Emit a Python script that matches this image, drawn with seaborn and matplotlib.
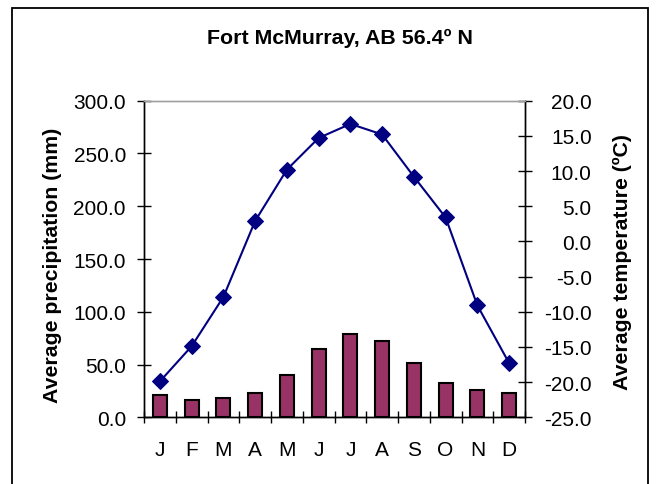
import numpy as np
import pandas as pd
import matplotlib
matplotlib.use('Agg')
import matplotlib.pyplot as plt
import matplotlib.patches as mpatches
from matplotlib.ticker import FormatStrFormatter, FixedLocator
import seaborn as sns

# ── Dados ────────────────────────────────────────────────────────────────────
MESES = ['J', 'F', 'M', 'A', 'M', 'J', 'J', 'A', 'S', 'O', 'N', 'D']
PRECIPITACAO = [21.1, 16.4, 18.0, 22.7, 40.4, 64.4, 78.9, 72.6, 51.7, 32.2, 25.9, 22.7]
TEMPERATURA = [-19.9, -14.9, -7.9, 2.9, 10.2, 14.7, 16.7, 15.2, 9.2, 3.4, -9.1, -17.3]
TICKS_PRECIP = [0, 50, 100, 150, 200, 250, 300]
TICKS_TEMP = [-25, -20, -15, -10, -5, 0, 5, 10, 15, 20]

df = pd.DataFrame({
    'mes': range(len(MESES)),
    'precip': PRECIPITACAO,
    'temp': TEMPERATURA,
})

# ── Estilo ────────────────────────────────────────────────────────────────────
sns.set_style('white')
plt.rcParams['font.family'] = ['Liberation Sans', 'DejaVu Sans']
plt.rcParams['axes.unicode_minus'] = False
plt.rcParams['text.color'] = 'black'
plt.rcParams['xtick.color'] = 'black'
plt.rcParams['ytick.color'] = 'black'
plt.rcParams['axes.labelcolor'] = 'black'

FONT_TICK = 15
FONT_LABEL = 15.3
W, H = 657, 485
fig = plt.figure(figsize=(W / 100, H / 100), dpi=100)

# eixo principal (px -> fração da figura)
x0, x1, y0, y1 = 144, 525, 101.7, 418.3
ax = fig.add_axes([x0 / W, 1 - y1 / H, (x1 - x0) / W, (y1 - y0) / H])
ax2 = ax.twinx()

# ── Barras: precipitação ─────────────────────────────────────────────────────
sns.barplot(data=df, x='mes', y='precip', color='#993366', saturation=1,
            edgecolor='black', linewidth=1.5, width=0.44, ax=ax)

# ── Linha: temperatura ───────────────────────────────────────────────────────
sns.lineplot(data=df, x='mes', y='temp', color='#000080', marker='D',
             markersize=8, markeredgecolor='#000080', linewidth=1.5, ax=ax2)

for a in (ax, ax2):
    a.set_xlim(-0.5, 11.5)
    a.set_facecolor('none')

ax.set_ylim(0, 300)
ax.yaxis.set_major_locator(FixedLocator(TICKS_PRECIP))
ax.yaxis.set_major_formatter(FormatStrFormatter('%.1f'))
ax2.set_ylim(-25, 20)
ax2.yaxis.set_major_locator(FixedLocator(TICKS_TEMP))
ax2.yaxis.set_major_formatter(FormatStrFormatter('%.1f'))

# rótulos dos meses + marcas entre categorias
ax.set_xticks(range(len(MESES)))
ax.set_xticklabels(MESES, fontsize=FONT_TICK)
ax.xaxis.set_minor_locator(FixedLocator(np.arange(-0.5, 12, 1)))
ax.tick_params(axis='x', which='major', length=0, pad=16)
ax.tick_params(axis='x', which='minor', direction='inout', length=8,
               width=1, color='black', bottom=True)
ax.tick_params(axis='y', direction='inout', length=10, width=1,
               color='black', labelsize=FONT_TICK, pad=8, left=True)
ax2.tick_params(axis='y', direction='inout', length=10, width=1,
                color='black', labelsize=FONT_TICK, pad=43, right=True)

ax.set_xlabel('')
ax.set_ylabel('Average precipitation (mm)', fontsize=FONT_LABEL, fontweight='bold')
ax.yaxis.set_label_coords(-0.215, 0.483)
ax2.set_ylabel('Average temperature (ºC)', fontsize=FONT_LABEL, fontweight='bold')
ax2.yaxis.set_label_coords(1.231, 0.492)

# bordas
for a in (ax, ax2):
    for s in a.spines.values():
        s.set_linewidth(1)
        s.set_color('black')
    a.spines['top'].set_color('#a0a0a0')

# título e moldura externa
fig.text(340 / W, 1 - 44 / H, 'Fort McMurray, AB 56.4º N', ha='center',
         va='baseline', fontsize=15.4, fontweight='bold')
fig.patches.append(mpatches.Rectangle((12 / W, -0.1), (648 - 12) / W,
                                      1 - 9 / H + 0.1, transform=fig.transFigure,
                                      fill=False, edgecolor='black', linewidth=1.3))

# rótulos do eixo direito alinhados à direita (como no Excel)
fig.canvas.draw()
for t in ax2.yaxis.get_major_ticks():
    t.label2.set_horizontalalignment('right')

plt.savefig('out.png', dpi=100)
plt.close()
